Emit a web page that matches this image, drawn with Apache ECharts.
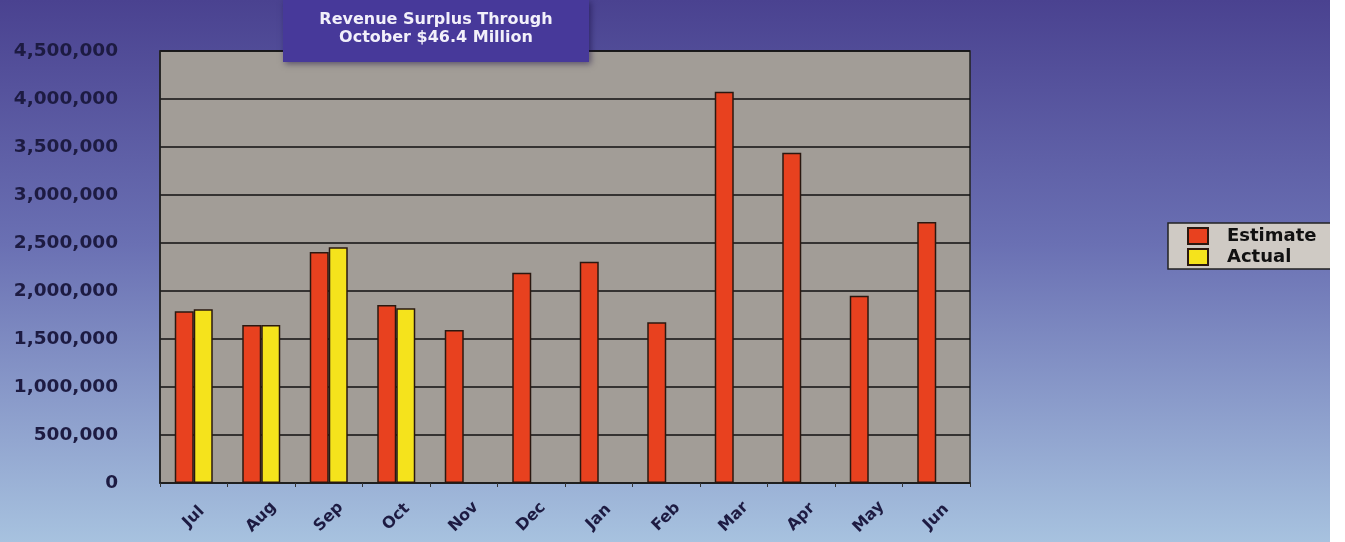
<!DOCTYPE html>
<html>
<head>
<meta charset="utf-8">
<script src="https://cdn.jsdelivr.net/npm/echarts@6/dist/echarts.min.js"></script>
<style>
html,body{margin:0;padding:0;background:#fff;}
#chart{width:1345px;height:542px;}
</style>
</head>
<body>
<div id="chart"></div>
<script>
var months = ['Jul','Aug','Sep','Oct','Nov','Dec','Jan','Feb','Mar','Apr','May','Jun'];
var estimate = [1790000, 1645000, 2405000, 1855000, 1595000, 2190000, 2305000, 1675000, 4075000, 3440000, 1950000, 2720000];
var actual = [1810000, 1645000, 2455000, 1820000, null, null, null, null, null, null, null, null];
var yTicks = {min: 0, max: 4500000, interval: 500000};
var titleLines = ['Revenue Surplus Through', 'October $46.4 Million'];

var chart = echarts.init(document.getElementById('chart'));
var font = 'DejaVu Sans';
var navy = '#1d1b42';
chart.setOption({
  animation: false,
  backgroundColor: new echarts.graphic.LinearGradient(0, 0, 0, 1, [
    {offset: 0, color: '#4a4290'},
    {offset: 0.45, color: '#6a70b3'},
    {offset: 1, color: '#a7c2df'}
  ]),
  grid: {
    left: 160, right: 375, top: 51, bottom: 59,
    show: true, backgroundColor: '#a29d97', borderColor: '#222', borderWidth: 1.5
  },
  legend: {
    orient: 'vertical',
    left: 1168, top: 223,
    padding: [4, 40, 3, 19],
    itemWidth: 20, itemHeight: 16, itemGap: 3,
    icon: 'rect',
    backgroundColor: '#cfcac4',
    borderColor: '#222', borderWidth: 1.5,
    textStyle: {fontFamily: font, fontWeight: 'bold', fontSize: 18, color: '#111', padding: [0, 0, 0, 14]},
    data: ['Estimate', 'Actual']
  },
  xAxis: {
    type: 'category',
    data: months,
    axisLine: {lineStyle: {color: '#222', width: 1.5}},
    axisTick: {show: true, length: 4, lineStyle: {color: '#333'}},
    axisLabel: {rotate: 45, margin: 34, align: 'center', verticalAlign: 'middle',
                fontFamily: font, fontWeight: 'bold', fontSize: 16, color: navy}
  },
  yAxis: {
    type: 'value',
    min: yTicks.min, max: yTicks.max, interval: yTicks.interval,
    axisLine: {show: true, lineStyle: {color: '#222', width: 1.5}},
    axisTick: {show: false},
    splitLine: {lineStyle: {color: '#111', width: 1.5}},
    axisLabel: {
      margin: 42, fontFamily: font, fontWeight: 'bold', fontSize: 18.5, color: navy,
      formatter: function (v) { return v.toString().replace(/\B(?=(\d{3})+(?!\d))/g, ','); }
    }
  },
  series: [
    {name: 'Estimate', type: 'bar', data: estimate, barWidth: 19, barGap: '0%',
     itemStyle: {color: '#e8411f', borderColor: '#2a1810', borderWidth: 1.5}},
    {name: 'Actual', type: 'bar', data: actual, barWidth: 19, barGap: '0%',
     itemStyle: {color: '#f5e31c', borderColor: '#2a1810', borderWidth: 1.5}}
  ],
  graphic: [
    {type: 'rect', left: 283, top: 0, z: 50,
     shape: {width: 306, height: 62},
     style: {fill: '#47399a', shadowBlur: 6, shadowColor: 'rgba(20,10,60,0.5)', shadowOffsetX: 2, shadowOffsetY: 2}},
    {type: 'text', z: 51, x: 436, y: 11,
     style: {text: titleLines.join('\n'), fill: '#f2f0fa', font: 'bold 16px "DejaVu Sans"', textAlign: 'center', lineHeight: 18}},
    {type: 'rect', left: 1330, top: 0, z: 100, shape: {width: 15, height: 542}, style: {fill: '#ffffff'}}
  ]
});
</script>
</body>
</html>
